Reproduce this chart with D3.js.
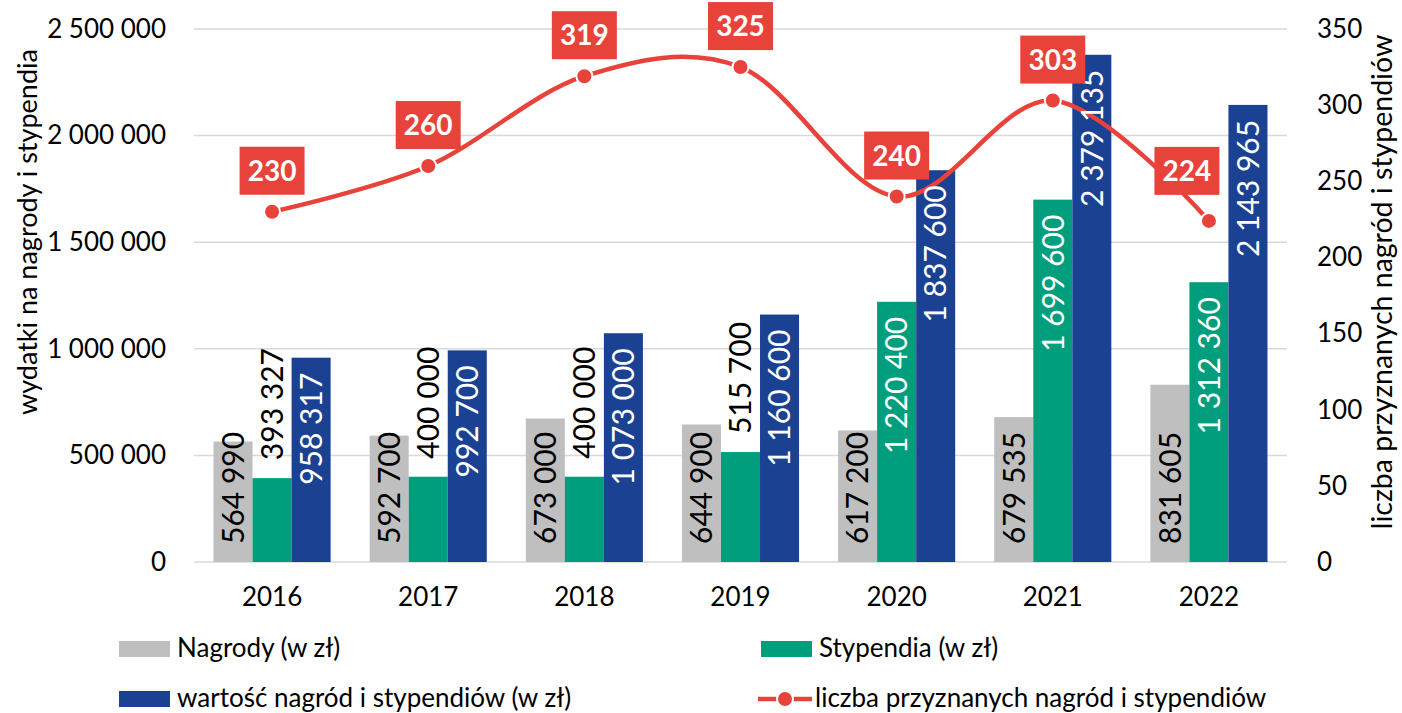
<!DOCTYPE html>
<html>
<head>
<meta charset="utf-8">
<script src="https://cdnjs.cloudflare.com/ajax/libs/d3/7.8.5/d3.min.js"></script>
<style>
  body { margin: 0; background: #fff; }
  text { font-family: Lato, "Open Sans", sans-serif; }
</style>
</head>
<body>
<div id="chart"></div>
<script>
//Data
var years = ["2016", "2017", "2018", "2019", "2020", "2021", "2022"];
var nagrody = [564990, 592700, 673000, 644900, 617200, 679535, 831605];
var stypendia = [393327, 400000, 400000, 515700, 1220400, 1699600, 1312360];
var wartosc = [958317, 992700, 1073000, 1160600, 1837600, 2379135, 2143965];
var liczba = [230, 260, 319, 325, 240, 303, 224];
var leftTicks = [0, 500000, 1000000, 1500000, 2000000, 2500000];
var rightTicks = [0, 50, 100, 150, 200, 250, 300, 350];
var seriesNames = ["Nagrody (w zł)", "Stypendia (w zł)", "wartość nagród i stypendiów (w zł)", "liczba przyznanych nagród i stypendiów"];

//Stablish svg size
var svgWidth = 1402;
var svgHeight = 713;

//plot area
var margin = {top: 29, right: 115, bottom: 151, left: 194};
var width = svgWidth - margin.left - margin.right;
var height = svgHeight - margin.top - margin.bottom;

var colors = ["#BFBFBF", "#009E7C", "#1B4193"];
var red = "#E8433B";

var svg = d3.select("#chart")
    .append("svg")
    .attr("width", svgWidth)
    .attr("height", svgHeight);

var chartGroup = svg.append("g")
    .attr("transform", `translate(${margin.left}, ${margin.top})`);

//number format with space as thousands separator
var fmt = function(v) { return d3.format(",")(v).replace(/,/g, " "); };

//scales
var x0 = d3.scaleBand()
    .domain(years)
    .range([0, width])
    .paddingInner(0.25)
    .paddingOuter(0.125);

var x1 = d3.scaleBand()
    .domain([0, 1, 2])
    .range([0, x0.bandwidth()]);

var yLeft = d3.scaleLinear().domain([0, 2500000]).range([height, 0]);
var yRight = d3.scaleLinear().domain([0, 350]).range([height, 0]);

//gridlines
chartGroup.append("g")
    .selectAll("line")
    .data(leftTicks)
    .enter()
    .append("line")
    .attr("x1", 0)
    .attr("x2", width)
    .attr("y1", d => yLeft(d))
    .attr("y2", d => yLeft(d))
    .attr("stroke", "#D9D9D9")
    .attr("stroke-width", 1.5);

//left axis
var leftAxis = d3.axisLeft(yLeft).tickValues(leftTicks).tickFormat(fmt).tickSize(0).tickPadding(28);
var gLeft = chartGroup.append("g").call(leftAxis);
gLeft.select(".domain").remove();
gLeft.selectAll("text")
    .attr("font-size", 26)
    .attr("fill", "#000")
    .style("font-family", "Lato");

//right axis
var rightAxis = d3.axisRight(yRight).tickValues(rightTicks).tickSize(0).tickPadding(30);
var gRight = chartGroup.append("g")
    .attr("transform", `translate(${width}, 0)`)
    .call(rightAxis);
gRight.select(".domain").remove();
gRight.selectAll("text")
    .attr("font-size", 26)
    .attr("fill", "#000")
    .style("font-family", "Lato");

//bottom axis
var bottomAxis = d3.axisBottom(x0).tickSize(0).tickPadding(26);
var gBottom = chartGroup.append("g")
    .attr("transform", `translate(0, ${height})`)
    .call(bottomAxis);
gBottom.select(".domain").remove();
gBottom.selectAll("text")
    .attr("font-size", 26)
    .attr("fill", "#000")
    .style("font-family", "Lato");

//bars
var series = [nagrody, stypendia, wartosc];
var barData = [];
years.forEach(function(yr, i) {
    series.forEach(function(s, k) {
        barData.push({year: yr, k: k, value: s[i]});
    });
});

chartGroup.append("g")
    .selectAll("rect")
    .data(barData)
    .enter()
    .append("rect")
    .attr("x", d => x0(d.year) + x1(d.k))
    .attr("y", d => yLeft(d.value))
    .attr("width", x1.bandwidth())
    .attr("height", d => height - yLeft(d.value))
    .attr("fill", d => colors[d.k]);

//line
var lineGen = d3.line()
    .x((d, i) => x0(years[i]) + x0.bandwidth() / 2)
    .y(d => yRight(d))
    .curve(d3.curveCardinal.tension(0));

chartGroup.append("path")
    .datum(liczba)
    .attr("d", lineGen)
    .attr("fill", "none")
    .attr("stroke", red)
    .attr("stroke-width", 4.5);

chartGroup.append("g")
    .selectAll("circle")
    .data(liczba)
    .enter()
    .append("circle")
    .attr("cx", (d, i) => x0(years[i]) + x0.bandwidth() / 2)
    .attr("cy", d => yRight(d))
    .attr("r", 8)
    .attr("fill", red)
    .attr("stroke", "#fff")
    .attr("stroke-width", 2);

//bar labels (rotated)
function outside(d) { return d.k === 0 || (d.k === 1 && d.value < 1000000); }

chartGroup.append("g")
    .selectAll("text")
    .data(barData)
    .enter()
    .append("text")
    .attr("transform", function(d) {
        var cx = x0(d.year) + x1(d.k) + x1.bandwidth() / 2;
        var top = yLeft(d.value);
        var ty;
        if (d.k === 0) ty = height - 18;              // inside base
        else if (d.k === 1 && d.value < 1000000) ty = top - 18; // outside end
        else ty = top + 15;                            // inside end
        return `translate(${cx}, ${ty}) rotate(-90)`;
    })
    .attr("dy", "0.36em")
    .attr("text-anchor", d => outside(d) ? "start" : "end")
    .attr("font-size", 30)
    .attr("fill", d => outside(d) ? "#000" : "#fff")
    .text(d => fmt(d.value));

//line labels in red boxes (last one is nudged left, off the blue bar)
var lineLabels = chartGroup.append("g")
    .selectAll("g")
    .data(liczba)
    .enter()
    .append("g")
    .attr("transform", function(d, i) {
        var cx = x0(years[i]) + x0.bandwidth() / 2;
        var cy = yRight(d) - 41;
        if (i === liczba.length - 1) { cx -= 22; cy -= 9; }
        return `translate(${cx}, ${cy})`;
    });

lineLabels.append("rect")
    .attr("x", -32.5)
    .attr("y", -24)
    .attr("width", 65)
    .attr("height", 48)
    .attr("fill", red);

lineLabels.append("text")
    .attr("text-anchor", "middle")
    .attr("dy", "0.36em")
    .attr("font-size", 28)
    .attr("font-weight", "bold")
    .attr("fill", "#fff")
    .text(d => d);

//axis titles
svg.append("text")
    .attr("transform", "translate(37, 232) rotate(-90)")
    .attr("text-anchor", "middle")
    .attr("font-size", 27)
    .text("wydatki na nagrody i stypendia");

svg.append("text")
    .attr("transform", "translate(1392, 282) rotate(-90)")
    .attr("text-anchor", "middle")
    .attr("font-size", 28.5)
    .text("liczba przyznanych nagród i stypendiów");

//legend
var legendItems = [
    {name: seriesNames[0], x: 119, y: 649, type: "rect", color: colors[0]},
    {name: seriesNames[1], x: 761, y: 649, type: "rect", color: colors[1]},
    {name: seriesNames[2], x: 119, y: 699, type: "rect", color: colors[2]},
    {name: seriesNames[3], x: 758, y: 699, type: "line", color: red}
];

var legend = svg.append("g")
    .selectAll("g")
    .data(legendItems)
    .enter()
    .append("g")
    .attr("transform", d => `translate(${d.x}, ${d.y})`);

legend.filter(d => d.type === "rect")
    .append("rect")
    .attr("x", 0)
    .attr("y", -8)
    .attr("width", 51)
    .attr("height", 16)
    .attr("fill", d => d.color);

var lineLegend = legend.filter(d => d.type === "line");
lineLegend.append("line")
    .attr("x1", 0)
    .attr("x2", 54)
    .attr("y1", 0)
    .attr("y2", 0)
    .attr("stroke", red)
    .attr("stroke-width", 4.5);
lineLegend.append("circle")
    .attr("cx", 27)
    .attr("cy", 0)
    .attr("r", 8)
    .attr("fill", red)
    .attr("stroke", "#fff")
    .attr("stroke-width", 2);

legend.append("text")
    .attr("x", d => d.type === "line" ? 57 : 58)
    .attr("y", 8)
    .attr("font-size", 26)
    .text(d => d.name);
</script>
</body>
</html>
